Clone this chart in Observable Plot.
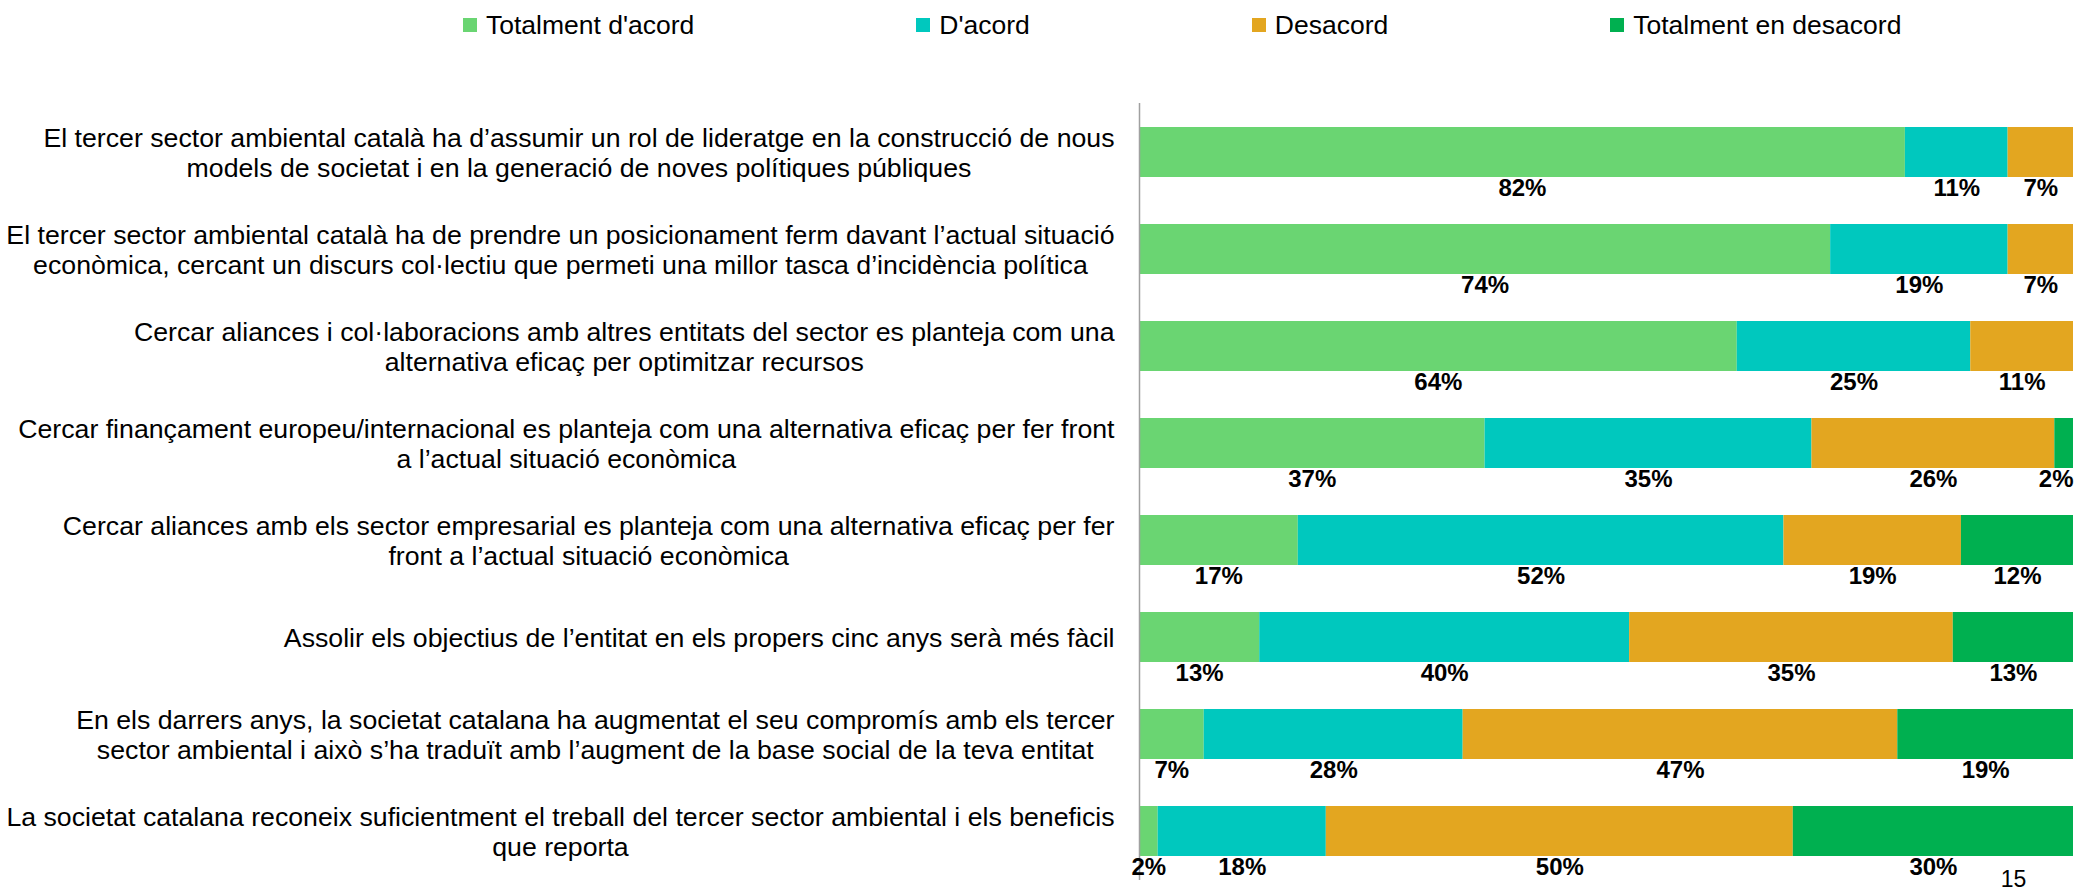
<!DOCTYPE html>
<html><head><meta charset="utf-8">
<script src="https://cdn.jsdelivr.net/npm/d3@7"></script>
<script src="https://cdn.jsdelivr.net/npm/@observablehq/plot@0.6"></script>
<style>
body{margin:0;background:#fff;font-family:"Liberation Sans",Arial,sans-serif;}
#legend{height:50px;display:flex;align-items:center;gap:222px;padding-left:463px;box-sizing:border-box;font-size:26.5px;color:#000;}
.item{display:flex;align-items:center;white-space:nowrap;}
.sw{width:14px;height:14px;margin-right:9px;}
</style></head><body>
<div id="legend"></div><div id="chart"></div>
<script>
const categories = ["Totalment d'acord", "D'acord", "Desacord", "Totalment en desacord"];
const questions = [
  "El tercer sector ambiental català ha d’assumir un rol de lideratge en la construcció de nous\nmodels de societat i en la generació de noves polítiques públiques",
  "El tercer sector ambiental català ha de prendre un posicionament ferm davant l’actual situació\neconòmica, cercant un discurs col·lectiu que permeti una millor tasca d’incidència política",
  "Cercar aliances i col·laboracions amb altres entitats del sector es planteja com una\nalternativa eficaç per optimitzar recursos",
  "Cercar finançament europeu/internacional es planteja com una alternativa eficaç per fer front\na l’actual situació econòmica",
  "Cercar aliances amb els sector empresarial es planteja com una alternativa eficaç per fer\nfront a l’actual situació econòmica",
  "Assolir els objectius de l’entitat en els propers cinc anys serà més fàcil",
  "En els darrers anys, la societat catalana ha augmentat el seu compromís amb els tercer\nsector ambiental i això s’ha traduït amb l’augment de la base social de la teva entitat",
  "La societat catalana reconeix suficientment el treball del tercer sector ambiental i els beneficis\nque reporta"
];
const totalmentAcord    = [82, 74, 64, 37, 17, 13,  7,  2];
const acord             = [11, 19, 25, 35, 52, 40, 28, 18];
const desacord          = [ 7,  7, 11, 26, 19, 35, 47, 50];
const totalmentDesacord = [ 0,  0,  0,  2, 12, 13, 19, 30];
const colors = ["#6AD572", "#00C8BE", "#E3A620", "#00B050"];
const pageNumber = "15";

const series = [totalmentAcord, acord, desacord, totalmentDesacord];
const data = [];
questions.forEach((q, i) => categories.forEach((c, j) => {
  if (series[j][i] > 0) data.push({q, cat: c, value: series[j][i]});
}));

// legend
const legend = document.getElementById("legend");
categories.forEach((c, j) => {
  const it = document.createElement("div"); it.className = "item";
  const sw = document.createElement("div"); sw.className = "sw"; sw.style.background = colors[j];
  const tx = document.createElement("span"); tx.textContent = c;
  it.appendChild(sw); it.appendChild(tx); legend.appendChild(it);
});

// measure label widths to center lines within a right-aligned block
const ctx = document.createElement("canvas").getContext("2d");
const labelFont = 26.7;
ctx.font = `${labelFont}px "Liberation Sans"`;
const blockWidth = q => Math.max(...q.split("\n").map(s => ctx.measureText(s).width));
const gap = 25;

const labelMarks = questions.map(q => Plot.text([q], {
  y: d => d, text: d => d, frameAnchor: "left", textAnchor: "middle",
  dx: -(gap + blockWidth(q) / 2), dy: 0, lineHeight: 1.1, fontSize: labelFont, fill: "#000"
}));

// a small last segment's label is kept inside the chart by right-aligning it
const atEdge = d => d.cat === categories[categories.length - 1] && d.value < 5;
const pct = d => d.value + "%";
const labelStyle = {fontSize: 24, fontWeight: "bold", fill: "#000", dy: 36};

const chart = Plot.plot({
  width: 2075, height: 840,
  marginLeft: 1139, marginRight: 2, marginTop: 53, marginBottom: 10,
  style: {fontFamily: '"Liberation Sans", Arial, sans-serif', background: "#fff", overflow: "visible"},
  x: {domain: [0, 1], axis: null},
  y: {domain: questions, axis: null, paddingInner: 0.48, paddingOuter: 0.24},
  color: {domain: categories, range: colors},
  marks: [
    Plot.barX(data, Plot.stackX({x: "value", y: "q", fill: "cat", order: categories, offset: "normalize"})),
    Plot.ruleX([0], {stroke: "#a0a0a0", strokeWidth: 1.5}),
    Plot.text(data, Plot.stackX({
      x: "value", y: "q", z: "cat", order: categories, offset: "normalize",
      text: d => atEdge(d) ? "" : pct(d), ...labelStyle
    })),
    Plot.text(data, Plot.stackX2({
      x: "value", y: "q", z: "cat", order: categories, offset: "normalize",
      text: d => atEdge(d) ? pct(d) : "", textAnchor: "end", ...labelStyle
    })),
    ...labelMarks,
    Plot.text([pageNumber], {text: d => d, frameAnchor: "bottom-right", textAnchor: "middle",
      lineAnchor: "bottom", dx: -60, dy: 6, fontSize: 23, fill: "#000"})
  ]
});
document.getElementById("chart").appendChild(chart);
</script>
</body></html>
